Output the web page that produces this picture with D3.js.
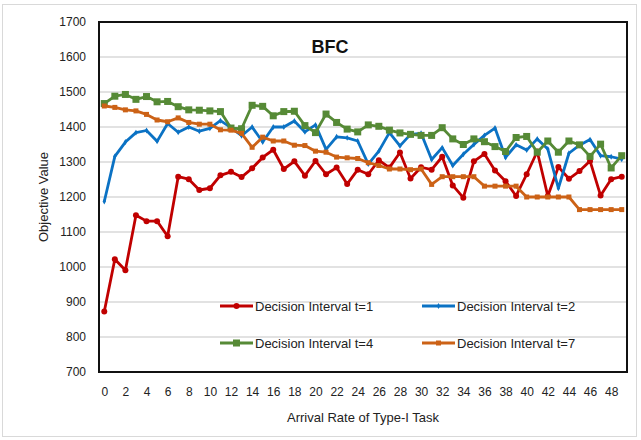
<!DOCTYPE html>
<html>
<head>
<meta charset="utf-8">
<script src="https://cdn.jsdelivr.net/npm/d3@7"></script>
<style>
body{margin:0;background:#fff;}
svg{display:block;font-family:"Liberation Sans",Arial,sans-serif;}
</style>
</head>
<body>
<svg width="641" height="440"></svg>
<script>
// arrival rate 0..49
var rates=d3.range(0,50);
var xTicks=d3.range(0,50,2);
var yTicks=[700,800,900,1000,1100,1200,1300,1400,1500,1600,1700];

var t1=[873,1022,991,1148,1131,1131,1088,1258,1251,1220,1225,1262,1272,1257,1282,1313,1335,1280,1302,1261,1303,1265,1284,1237,1278,1265,1305,1284,1327,1253,1285,1278,1315,1233,1198,1302,1323,1276,1245,1203,1265,1330,1203,1286,1252,1274,1303,1204,1251,1258];
var t2=[1187,1316,1357,1384,1390,1359,1410,1385,1400,1388,1396,1418,1398,1375,1400,1357,1400,1400,1417,1386,1406,1336,1372,1369,1360,1294,1331,1384,1346,1379,1382,1307,1341,1290,1322,1350,1376,1397,1313,1349,1334,1366,1337,1225,1325,1348,1364,1318,1315,1308];
var t4=[1467,1488,1493,1479,1487,1472,1473,1458,1449,1448,1446,1444,1397,1395,1462,1459,1432,1444,1445,1404,1384,1437,1413,1394,1386,1406,1402,1391,1383,1379,1376,1376,1398,1366,1350,1366,1358,1344,1330,1370,1373,1328,1360,1328,1360,1349,1316,1351,1283,1318];
var t7=[1460,1456,1449,1446,1436,1420,1415,1426,1413,1408,1408,1392,1391,1382,1342,1371,1360,1360,1348,1347,1331,1328,1314,1312,1310,1298,1290,1280,1280,1278,1280,1236,1258,1258,1258,1258,1231,1231,1231,1231,1200,1200,1200,1200,1200,1164,1164,1164,1164,1164];

var series=[
  {name:"Decision Interval t=1",values:t1,color:"#c00000",marker:"circle"},
  {name:"Decision Interval t=2",values:t2,color:"#0b72c4",marker:"diamond"},
  {name:"Decision Interval t=4",values:t4,color:"#568a36",marker:"bigsquare"},
  {name:"Decision Interval t=7",values:t7,color:"#cc6216",marker:"square"}
];

var plotL=99,plotR=627,plotT=22,plotB=372;
var svg=d3.select("svg");

// outer chart border
svg.append("rect")
  .attr("x",2.5).attr("y",4.5).attr("width",634).attr("height",432)
  .attr("fill","none").attr("stroke","#d9d9d9").attr("stroke-width",1);

var x=d3.scalePoint().domain(rates).range([plotL,plotR]).padding(0.5);
var y=d3.scaleLinear().domain([700,1700]).range([plotB,plotT]);

// gridlines
svg.append("g")
  .selectAll("line")
  .data(yTicks)
  .enter().append("line")
  .attr("x1",plotL).attr("x2",plotR)
  .attr("y1",d=>y(d)).attr("y2",d=>y(d))
  .attr("stroke","#d9d9d9").attr("stroke-width",1.5);

var yaxis=d3.axisLeft(y).tickValues(yTicks).tickSize(0).tickPadding(13).tickFormat(d3.format("d"));
var gy=svg.append("g").attr("transform","translate("+plotL+",0)").call(yaxis);
gy.select(".domain").remove();
gy.selectAll("text").attr("font-size","12px").attr("fill","#222").attr("font-family","Liberation Sans, Arial, sans-serif");

var xaxis=d3.axisBottom(x).tickValues(xTicks).tickSize(0).tickPadding(15);
var gx=svg.append("g").attr("transform","translate(0,"+plotB+")").call(xaxis);
gx.select(".domain").remove();
gx.selectAll("text").attr("font-size","12px").attr("fill","#222").attr("font-family","Liberation Sans, Arial, sans-serif");

// plot frame
svg.append("rect")
  .attr("x",plotL).attr("y",plotT).attr("width",plotR-plotL).attr("height",plotB-plotT)
  .attr("fill","none").attr("stroke","#111").attr("stroke-width",2);

function drawMarker(g,type,color,cx,cy){
  if(type=="circle"){
    g.append("circle").attr("cx",cx).attr("cy",cy).attr("r",3).attr("fill",color);
  } else if(type=="diamond"){
    g.append("path").attr("d",d3.symbol().type(d3.symbolDiamond).size(10)())
      .attr("transform","translate("+cx+","+cy+")").attr("fill",color);
  } else if(type=="bigsquare"){
    g.append("rect").attr("x",cx-3.5).attr("y",cy-3.5).attr("width",7).attr("height",7).attr("fill",color);
  } else {
    g.append("rect").attr("x",cx-2.5).attr("y",cy-2.5).attr("width",5).attr("height",5).attr("fill",color);
  }
}

var line=d3.line().x((d,i)=>x(rates[i])).y(d=>y(d));

series.forEach(function(s){
  var g=svg.append("g");
  g.append("path")
    .attr("d",line(s.values))
    .attr("fill","none")
    .attr("stroke",s.color)
    .attr("stroke-width",2.8)
    .attr("stroke-linejoin","round");
  s.values.forEach(function(v,i){
    drawMarker(g,s.marker,s.color,x(rates[i]),y(v));
  });
});

// legend
var legendPos=[[220,306],[422,306],[220,343],[422,343]];
series.forEach(function(s,i){
  var p=legendPos[i];
  var g=svg.append("g");
  g.append("line").attr("x1",p[0]).attr("x2",p[0]+33).attr("y1",p[1]).attr("y2",p[1])
    .attr("stroke",s.color).attr("stroke-width",2.8);
  drawMarker(g,s.marker,s.color,p[0]+16.5,p[1]);
  g.append("text").attr("x",p[0]+35).attr("y",p[1]).attr("dy","0.35em")
    .attr("font-size","13px").attr("fill","#222").text(s.name);
});

// title
svg.append("text").attr("x",330).attr("y",53).attr("text-anchor","middle")
  .attr("font-size","18px").attr("font-weight","bold").attr("fill","#111").text("BFC");

// axis titles
svg.append("text").attr("x",(plotL+plotR)/2).attr("y",417).attr("dy","0.35em")
  .attr("text-anchor","middle").attr("font-size","13px").attr("fill","#222")
  .text("Arrival Rate of Type-I Task");

svg.append("text").attr("transform","translate(43,"+((plotT+plotB)/2)+") rotate(-90)")
  .attr("dy","0.35em").attr("text-anchor","middle").attr("font-size","13px").attr("fill","#222")
  .text("Objective Value");
</script>
</body>
</html>
